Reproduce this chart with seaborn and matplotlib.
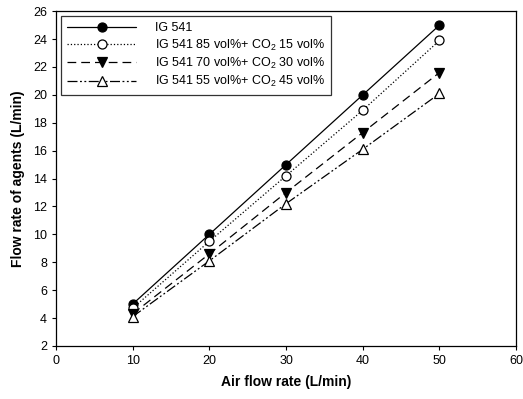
import matplotlib
matplotlib.use("Agg")
import matplotlib.pyplot as plt
import seaborn as sns
import pandas as pd

air_flow = [10, 20, 30, 40, 50]
ig541 = [5.0, 10.0, 15.0, 20.0, 25.0]
ig85_co2_15 = [4.7, 9.5, 14.2, 18.9, 23.9]
ig70_co2_30 = [4.3, 8.6, 13.0, 17.3, 21.6]
ig55_co2_45 = [4.1, 8.1, 12.2, 16.1, 20.1]

labels = ["IG 541",
          "IG 541 85 vol%+ CO$_2$ 15 vol%",
          "IG 541 70 vol%+ CO$_2$ 30 vol%",
          "IG 541 55 vol%+ CO$_2$ 45 vol%"]
series = [ig541, ig85_co2_15, ig70_co2_30, ig55_co2_45]

sns.set_theme(style="ticks")
plt.rcParams['font.family'] = ['Liberation Sans', 'DejaVu Sans']
plt.rcParams['mathtext.fontset'] = 'custom'
plt.rcParams['mathtext.rm'] = 'Liberation Sans'
plt.rcParams['text.color'] = 'black'
plt.rcParams['axes.labelcolor'] = 'black'

fig = plt.figure(figsize=(5.23, 3.99), dpi=100)
ax = fig.add_axes([0.107, 0.133, 0.880, 0.839])

styles = [
    dict(linestyle='-', marker='o', mfc='black', mec='black'),
    dict(linestyle=':', marker='o', mfc='white', mec='black'),
    dict(linestyle=(0, (7, 4)), marker='v', mfc='black', mec='black'),
    dict(linestyle=(0, (8, 2, 1.5, 2, 1.5, 2)), marker='^', mfc='white', mec='black'),
]

for lab, vals, st in zip(labels, series, styles):
    df = pd.DataFrame({"x": air_flow, "y": vals})
    sns.lineplot(data=df, x="x", y="y", ax=ax, color='black', lw=0.9,
                 linestyle=st['linestyle'], marker=st['marker'],
                 markerfacecolor=st['mfc'], markeredgecolor=st['mec'],
                 markersize=6.5, markeredgewidth=0.9, label=lab)

ax.set_xlim(0, 60)
ax.set_ylim(2, 26)
ax.set_xticks(range(0, 61, 10))
ax.set_yticks(range(2, 27, 2))
ax.tick_params(axis='both', labelsize=9, length=3, width=0.8, direction='out',
               colors='black', labelcolor='black')
for s in ax.spines.values():
    s.set_linewidth(0.9)
    s.set_color('black')
    s.set_visible(True)

ax.set_xlabel("Air flow rate (L/min)", fontsize=10, fontweight='bold', labelpad=6, color='black')
ax.set_ylabel("Flow rate of agents (L/min)", fontsize=10, fontweight='bold', labelpad=6, color='black')

leg = ax.legend(loc='upper left', fontsize=9, frameon=True, fancybox=False,
                edgecolor='black', handlelength=5.5, borderpad=0.5,
                labelspacing=0.25, handletextpad=1.5, borderaxespad=0.4)
leg.get_frame().set_linewidth(0.9)
for t in leg.get_texts():
    t.set_color('black')

fig.savefig("out.png", dpi=100)
